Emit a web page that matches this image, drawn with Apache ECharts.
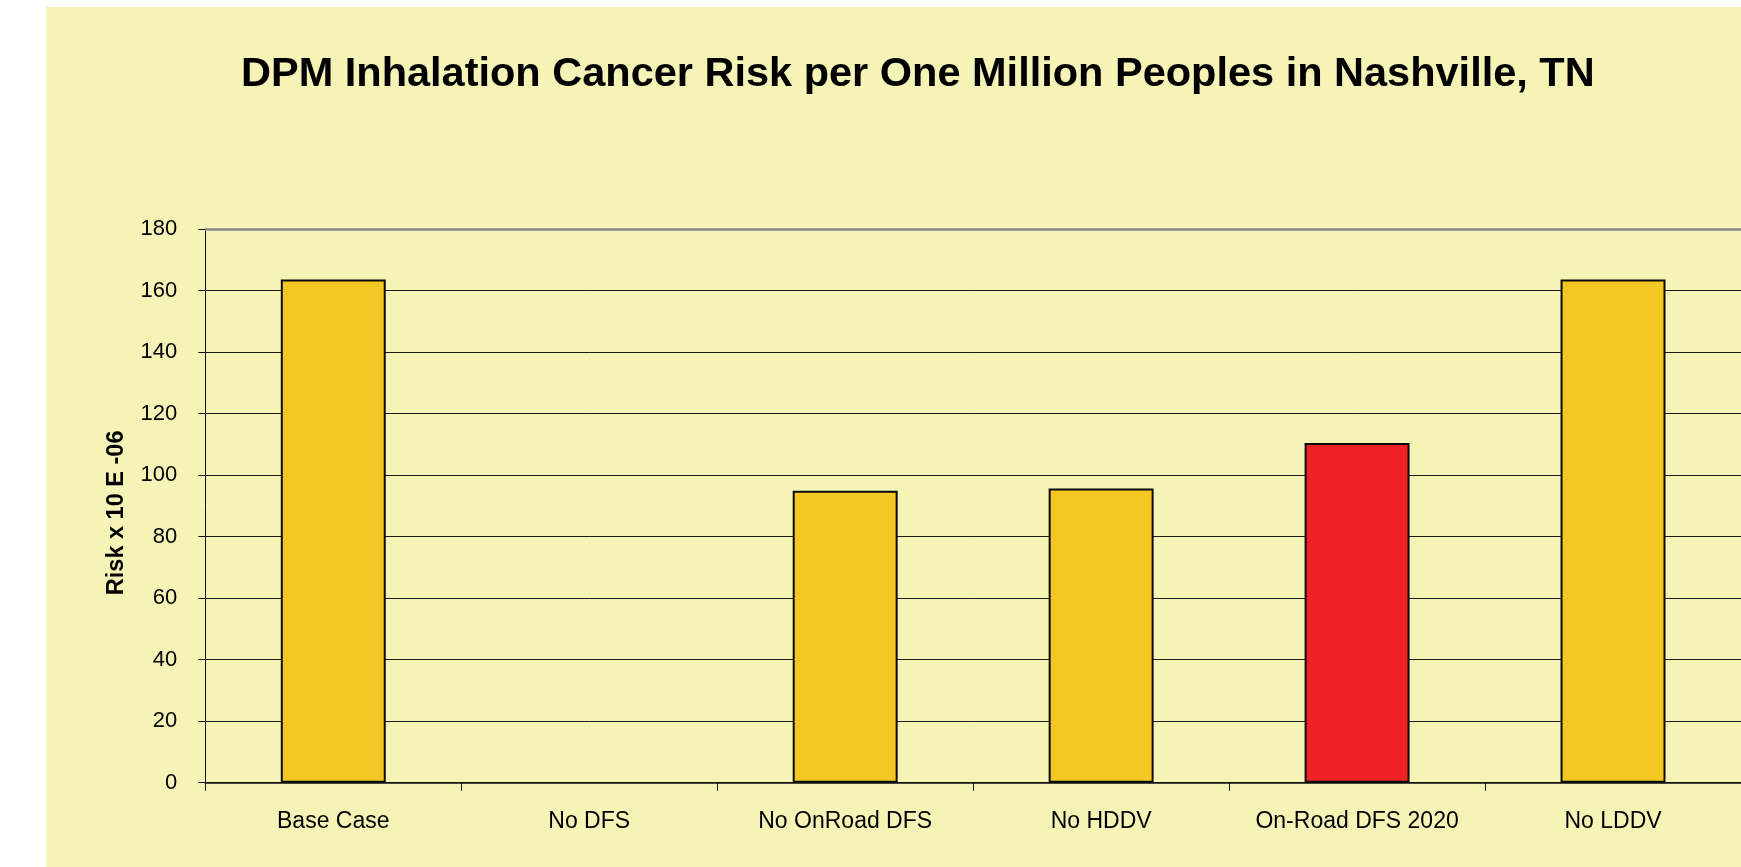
<!DOCTYPE html>
<html>
<head>
<meta charset="utf-8">
<title>DPM Inhalation Cancer Risk</title>
<script src="https://cdn.jsdelivr.net/npm/echarts@6/dist/echarts.min.js"></script>
<style>
  html, body { margin: 0; padding: 0; background: #ffffff; width: 1741px; height: 867px; overflow: hidden; }
  #chart { position: absolute; left: 46px; top: 7px; width: 1695px; height: 860px; }
</style>
</head>
<body>
<div id="chart"></div>
<script>
// Scenario names along the x axis
const categories = ['Base Case', 'No DFS', 'No OnRoad DFS', 'No HDDV', 'On-Road DFS 2020', 'No LDDV'];
// Cancer risk per one million people (Risk x 10 E-06); No DFS has no bar
const riskValues = [163.6, null, 94.9, 95.6, 110.4, 163.6];
// Value axis range
const yMin = 0;
const yMax = 180;
const yStep = 20;
// Scenario drawn in the accent colour
const highlightCategory = 'On-Road DFS 2020';

const FONT = "'Liberation Sans', Arial, Helvetica, sans-serif";
const BAR_COLOR = '#F5C722';
const ACCENT_COLOR = '#EE2224';

const chart = echarts.init(document.getElementById('chart'), null, { renderer: 'canvas' });

chart.setOption({
  backgroundColor: '#F5F3B6',
  animation: false,
  title: {
    text: 'DPM Inhalation Cancer Risk per One Million Peoples in Nashville, TN',
    left: 190,
    top: 42,
    padding: 5,
    textStyle: { fontFamily: FONT, fontSize: 41.5, fontWeight: 'bold', color: '#000' }
  },
  grid: {
    left: 159.3,
    top: 222,
    width: 1538.4,
    bottom: 84.3,
    containLabel: false
  },
  xAxis: {
    type: 'category',
    data: categories,
    boundaryGap: true,
    axisLine: { show: true, lineStyle: { color: '#111', width: 1.5 } },
    axisTick: { show: true, length: 8, inside: false, alignWithLabel: false, lineStyle: { color: '#111', width: 1 } },
    axisLabel: { fontFamily: FONT, fontSize: 23, color: '#000', margin: 27, interval: 0 },
    splitLine: { show: false }
  },
  yAxis: {
    type: 'value',
    min: yMin,
    max: yMax,
    interval: yStep,
    name: 'Risk x 10 E -06',
    nameLocation: 'middle',
    nameGap: 77,
    nameTextStyle: { fontFamily: FONT, fontSize: 23.5, fontWeight: 'bold', color: '#000', padding: [0, 14, 0, 0] },
    axisLine: { show: true, lineStyle: { color: '#111', width: 1 } },
    axisTick: { show: true, length: 7, inside: false, lineStyle: { color: '#111', width: 1 } },
    axisLabel: { fontFamily: FONT, fontSize: 22, color: '#000', margin: 28 },
    splitLine: { show: true, showMaxLine: false, lineStyle: { color: '#1a1a1a', width: 1 } }
  },
  series: [{
    type: 'bar',
    data: riskValues,
    barWidth: '41%',
    itemStyle: {
      color: function (p) { return categories[p.dataIndex] === highlightCategory ? ACCENT_COLOR : BAR_COLOR; },
      borderColor: '#0a0a0a',
      borderWidth: 2
    },
    markLine: {
      silent: true,
      symbol: 'none',
      label: { show: false },
      lineStyle: { color: '#8a8a8a', width: 2.5, type: 'solid' },
      data: [{ yAxis: yMax }]
    }
  }]
});
</script>
</body>
</html>
